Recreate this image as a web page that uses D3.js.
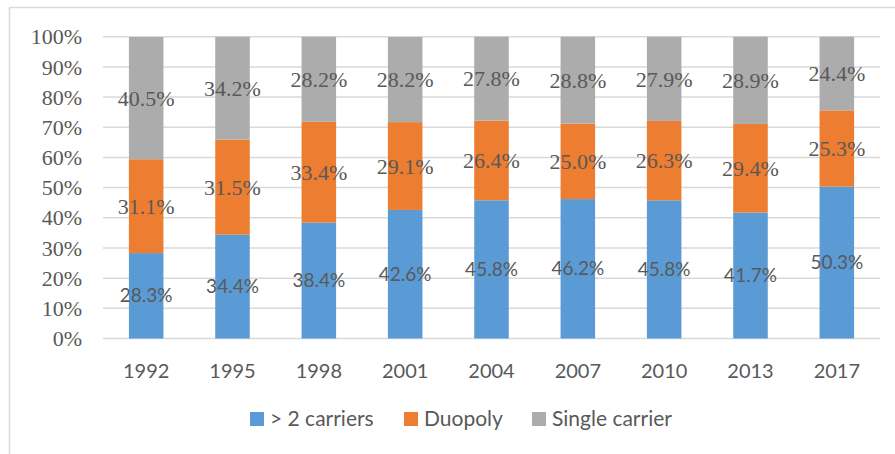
<!DOCTYPE html>
<html>
<head>
<meta charset="utf-8">
<script src="https://cdn.jsdelivr.net/npm/d3@7"></script>
<style>
  body { margin: 0; background: #fff; }
  svg { display: block; }
</style>
</head>
<body>
<svg class="chart"></svg>
<script>
var years = ["1992", "1995", "1998", "2001", "2004", "2007", "2010", "2013", "2017"];
var multi = [28.3, 34.4, 38.4, 42.6, 45.8, 46.2, 45.8, 41.7, 50.3];
var duopoly = [31.1, 31.5, 33.4, 29.1, 26.4, 25.0, 26.3, 29.4, 25.3];
var single = [40.5, 34.2, 28.2, 28.2, 27.8, 28.8, 27.9, 28.9, 24.4];
var seriesNames = ["> 2 carriers", "Duopoly", "Single carrier"];
var yTicks = [0, 10, 20, 30, 40, 50, 60, 70, 80, 90, 100];

var width = 895, height = 454;
var colors = ["#5b9bd5", "#ed7d31", "#acacac"];
var textColor = "#595959";
var serif = "Liberation Serif";
var sans = "Lato";

var svg = d3.select(".chart").attr("width", width).attr("height", height);

// outer frame (only top and left edges visible)
svg.append("path")
    .attr("d", "M9.5," + height + "V7.5H" + width)
    .attr("fill", "none")
    .attr("stroke", "#d9d9d9")
    .attr("stroke-width", 1.5);

var x = d3.scaleBand()
    .domain(years)
    .range([103, 880])
    .paddingInner(0.6)
    .paddingOuter(0.3);

var y = d3.scaleLinear()
    .domain([0, 100])
    .range([338.5, 36.7]);

// gridlines
svg.append("g").selectAll("line")
  .data(yTicks)
  .enter().append("line")
    .attr("x1", 103).attr("x2", 880)
    .attr("y1", function(d) { return y(d); })
    .attr("y2", function(d) { return y(d); })
    .attr("stroke", "#d9d9d9")
    .attr("stroke-width", 1.5);

// y axis labels
svg.append("g").selectAll("text")
  .data(yTicks)
  .enter().append("text")
    .attr("x", 82)
    .attr("y", function(d) { return y(d); })
    .attr("dy", "0.35em")
    .attr("text-anchor", "end")
    .style("font-family", serif)
    .attr("font-size", 22)
    .attr("fill", textColor)
    .text(function(d) { return d + "%"; });

// stacked data
var rows = years.map(function(yr, i) {
  return { year: yr, s0: multi[i], s1: duopoly[i], s2: single[i] };
});
var layers = d3.stack().keys(["s0", "s1", "s2"])(rows);

var layer = svg.append("g").selectAll("g")
  .data(layers)
  .enter().append("g")
    .attr("fill", function(d, i) { return colors[i]; });

layer.selectAll("rect")
  .data(function(d) { return d; })
  .enter().append("rect")
    .attr("x", function(d) { return x(d.data.year); })
    .attr("width", x.bandwidth())
    .attr("y", function(d) { return y(Math.min(d[1], 100)); })
    .attr("height", function(d) { return y(d[0]) - y(Math.min(d[1], 100)); });

// data labels: first series in sans, the others in serif
layers.forEach(function(ly, li) {
  svg.append("g").selectAll("text")
    .data(ly)
    .enter().append("text")
      .attr("x", function(d) { return x(d.data.year) + x.bandwidth() / 2; })
      .attr("y", function(d) { return y((d[0] + d[1]) / 2); })
      .attr("dy", "0.35em")
      .attr("text-anchor", "middle")
      .style("font-family", li == 0 ? sans : serif)
      .attr("font-size", li == 0 ? 19 : 22)
      .attr("fill", textColor)
      .text(function(d) { return d.data[ly.key].toFixed(1) + "%"; });
});

// x axis labels
svg.append("g").selectAll("text")
  .data(years)
  .enter().append("text")
    .attr("x", function(d) { return x(d) + x.bandwidth() / 2; })
    .attr("y", 378)
    .attr("text-anchor", "middle")
    .style("font-family", sans)
    .attr("font-size", 20)
    .attr("fill", textColor)
    .text(function(d) { return d; });

// legend
var legendX = [250, 404, 532];
var legend = svg.append("g").selectAll("g")
  .data(seriesNames)
  .enter().append("g")
    .attr("transform", function(d, i) { return "translate(" + legendX[i] + ",412)"; });
legend.append("rect")
    .attr("width", 14).attr("height", 14)
    .attr("fill", function(d, i) { return colors[i]; });
legend.append("text")
    .attr("x", 20)
    .attr("y", 7)
    .attr("dy", "0.35em")
    .style("font-family", sans)
    .attr("font-size", 21)
    .attr("fill", textColor)
    .text(function(d) { return d; });
</script>
</body>
</html>
